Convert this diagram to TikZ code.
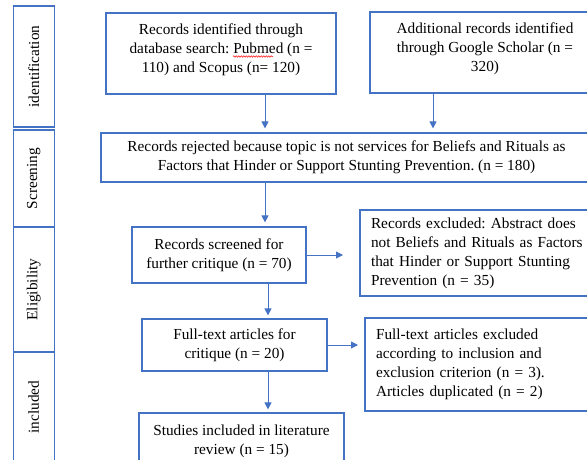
\documentclass[tikz,border=0pt]{standalone}
\usepackage{fontspec}
\setmainfont{Liberation Serif}
\usetikzlibrary{arrows.meta,decorations.pathmorphing}
\definecolor{wordblue}{HTML}{4472C4}
\frenchspacing

\begin{document}
\begin{tikzpicture}[x=1pt,y=-1pt,
  font=\fontsize{15.3}{19}\selectfont,
  box/.style={draw=wordblue,line width=1.2pt,inner sep=0pt,align=center},
  lbox/.style={draw=wordblue,line width=1.2pt,inner xsep=11pt,inner ysep=0pt,align=left,text width=#1},
  side/.style={draw=wordblue,line width=1.2pt,inner sep=0pt,rotate=90,minimum height=41pt},
  arr/.style={draw=wordblue,line width=0.9pt,-{Triangle[length=7pt,width=7pt]}},
  squiggle/.style={red,line width=0.5pt,decorate,decoration={snake,amplitude=0.7pt,segment length=2.5pt}}]

\clip (0,0) rectangle (587,459);

\node[side,minimum width=121pt] (s1) at (33.7,66.5) {identification};
\node[side,minimum width=97pt] (s2) at (33.7,178.5) {Screening};
\node[side,minimum width=125pt] (s3) at (33.7,289.5) {Eligibility};
\node[side,minimum width=110pt] (s4) at (33.7,407) {included};

\node[box,minimum width=230pt,minimum height=81pt] (b1) at (221,53.5)
  {Records identified through\\database search: Pubmed (n =\\110) and Scopus (n= 120)\\[-9pt]\mbox{}};
\node[box,minimum width=230pt,minimum height=81pt] (b2) at (485,52.5)
  {Additional records identified\\through Google Scholar (n =\\320)\\[-9pt]\mbox{}};
\node[box,minimum width=491pt,minimum height=49pt] (b3) at (346.5,157.5)
  {Records rejected because topic is not services for Beliefs and Rituals as\\Factors that Hinder or Support Stunting Prevention. (n = 180)};
\node[box,minimum width=174pt,minimum height=56pt] (b4) at (219,255)
  {Records screened for\\further critique (n = 70)};
\node[lbox=218pt,minimum height=86pt] (b5) at (480,253)
  {Records excluded: Abstract does\\not Beliefs and Rituals as Factors\\that Hinder or Support Stunting\\Prevention (n = 35)};
\node[box,minimum width=185pt,minimum height=52pt] (b6) at (234.5,345)
  {Full-text articles for\\critique (n = 20)};
\node[lbox=213pt,minimum height=93pt] (b7) at (482.5,364.5)
  {Full-text articles excluded\\according to inclusion and\\exclusion criterion (n = 3).\\Articles duplicated (n = 2)};
\node[box,minimum width=205pt,minimum height=57pt] (b8) at (241.5,441.5)
  {Studies included in literature\\review (n = 15)};

\draw[squiggle] (233,56.5) -- (273,56.5);

\coordinate (x1) at (265,0);
\coordinate (x2) at (433,0);
\coordinate (x3) at (268,0);
\coordinate (e5) at (343,255);
\coordinate (e7) at (358,345);

\draw[arr,shorten >=4pt] (b1.south -| x1) -- (b3.north -| x1);
\draw[arr,shorten >=4pt] (b2.south -| x2) -- (b3.north -| x2);
\draw[arr,shorten >=4pt] (b3.south -| x1) -- (b4.north -| x1);
\draw[arr] (b4.east) -- (e5);
\draw[arr,shorten >=3pt] (b4.south -| x3) -- (b6.north -| x3);
\draw[arr] (b6.east) -- (e7);
\draw[arr,shorten >=3pt] (b6.south -| x3) -- (b8.north -| x3);

\end{tikzpicture}
\end{document}
